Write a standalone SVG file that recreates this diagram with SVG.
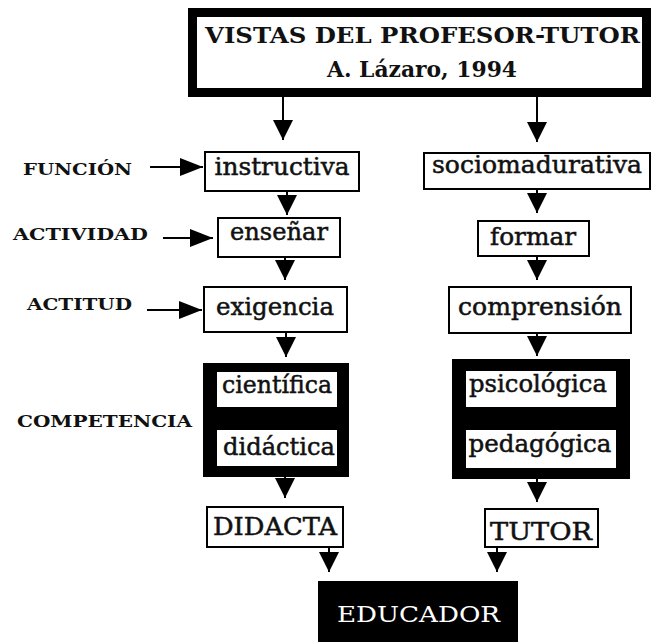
<svg xmlns="http://www.w3.org/2000/svg" width="652" height="642" viewBox="0 0 652 642">
<style>
.bg{fill:#fff}
.box{fill:#fff;stroke:#000;stroke-width:2}
.blk{fill:#000}
.wht{fill:#fff}
.t{font-family:"DejaVu Serif","Liberation Serif",serif;font-size:24px;fill:#111;stroke:#111;stroke-width:0.5;text-anchor:middle}
.lbl{font-family:"DejaVu Serif","Liberation Serif",serif;font-size:16px;font-weight:bold;fill:#111}
.ttl{font-family:"DejaVu Serif","Liberation Serif",serif;font-size:22px;font-weight:bold;fill:#111;text-anchor:middle}
.edu{font-family:"DejaVu Serif","Liberation Serif",serif;font-size:23px;fill:#fff;text-anchor:middle}
.ln{stroke:#000;stroke-width:2;fill:none}
.v{marker-end:url(#hv)}
.h{marker-end:url(#hh)}
</style>
<defs>
<marker id="hv" markerUnits="userSpaceOnUse" viewBox="0 0 20 20" refX="20" refY="10" markerWidth="20" markerHeight="20" orient="auto"><path d="M0,0 L20,10 L0,20 z" fill="#000"/></marker>
<marker id="hh" markerUnits="userSpaceOnUse" viewBox="0 0 23 18" refX="23" refY="9" markerWidth="23" markerHeight="18" orient="auto"><path d="M0,0 L23,9 L0,18 z" fill="#000"/></marker>
</defs>
<rect class="bg" x="0" y="0" width="652" height="642"/>

<g id="title">
<rect x="192.5" y="12.5" width="454" height="80" fill="#fff" stroke="#000" stroke-width="9"/>
<text class="ttl" x="422.5" y="43" textLength="435" lengthAdjust="spacingAndGlyphs">VISTAS DEL PROFESOR-TUTOR</text>
<text class="ttl" x="422" y="77" textLength="190" lengthAdjust="spacingAndGlyphs">A. Lázaro, 1994</text>
</g>

<g id="labels">
<text class="lbl" x="23" y="175" textLength="109" lengthAdjust="spacingAndGlyphs">FUNCIÓN</text>
<text class="lbl" x="13" y="240" textLength="135" lengthAdjust="spacingAndGlyphs">ACTIVIDAD</text>
<text class="lbl" x="27" y="310" textLength="105" lengthAdjust="spacingAndGlyphs">ACTITUD</text>
<text class="lbl" x="17" y="427" textLength="175" lengthAdjust="spacingAndGlyphs">COMPETENCIA</text>
</g>

<g id="instructiva"><rect class="box" x="205" y="152" width="154" height="39"/><text class="t" x="282" y="175" textLength="135" lengthAdjust="spacingAndGlyphs">instructiva</text></g>
<g id="ensenar"><rect class="box" x="218" y="218" width="122" height="39"/><text class="t" x="279" y="240" textLength="98" lengthAdjust="spacingAndGlyphs">enseñar</text></g>
<g id="exigencia"><rect class="box" x="204" y="287" width="143" height="45"/><text class="t" x="275" y="315" textLength="118" lengthAdjust="spacingAndGlyphs">exigencia</text></g>

<g id="sociomadurativa"><rect class="box" x="424" y="153" width="226" height="36"/><text class="t" x="537" y="173" textLength="210" lengthAdjust="spacingAndGlyphs">sociomadurativa</text></g>
<g id="formar"><rect class="box" x="478" y="221" width="111" height="35"/><text class="t" x="533" y="245" textLength="86" lengthAdjust="spacingAndGlyphs">formar</text></g>
<g id="comprension"><rect class="box" x="449" y="287" width="182" height="46"/><text class="t" x="540" y="315" textLength="164" lengthAdjust="spacingAndGlyphs">comprensión</text></g>

<g id="competencia-left">
<rect class="blk" x="203" y="363" width="146" height="114"/>
<rect class="wht" x="217" y="372" width="120" height="35"/>
<rect class="wht" x="217" y="430" width="120" height="36"/>
<text class="t" x="277" y="393" textLength="110" lengthAdjust="spacingAndGlyphs">científica</text>
<text class="t" x="279" y="455" textLength="112" lengthAdjust="spacingAndGlyphs">didáctica</text>
</g>
<g id="competencia-right">
<rect class="blk" x="452" y="359" width="178" height="120"/>
<rect class="wht" x="466" y="371" width="150" height="36"/>
<rect class="wht" x="466" y="430" width="150" height="38"/>
<text class="t" x="538" y="392" textLength="138" lengthAdjust="spacingAndGlyphs">psicológica</text>
<text class="t" x="540" y="452" textLength="143" lengthAdjust="spacingAndGlyphs">pedagógica</text>
</g>

<g id="didacta"><rect class="box" x="207" y="507" width="136" height="40"/><text class="t" x="275" y="535" textLength="124" lengthAdjust="spacingAndGlyphs">DIDACTA</text></g>
<g id="tutor"><rect class="box" x="485" y="509" width="113" height="38"/><text class="t" x="541" y="540" textLength="102" lengthAdjust="spacingAndGlyphs">TUTOR</text></g>

<g id="educador"><rect class="blk" x="318" y="581" width="200" height="61"/><text class="edu" x="418.5" y="622" textLength="163" lengthAdjust="spacingAndGlyphs">EDUCADOR</text></g>

<g id="connectors">
<line class="ln v" x1="283" y1="97" x2="283" y2="140"/>
<line class="ln v" x1="537" y1="97" x2="537" y2="142"/>
<line class="ln v" x1="287" y1="191" x2="287" y2="215"/>
<line class="ln v" x1="537" y1="189" x2="537" y2="213"/>
<line class="ln v" x1="285" y1="257" x2="285" y2="280"/>
<line class="ln v" x1="537" y1="256" x2="537" y2="280"/>
<line class="ln v" x1="286" y1="332" x2="286" y2="357"/>
<line class="ln v" x1="537" y1="333" x2="537" y2="356"/>
<line class="ln v" x1="285" y1="477" x2="285" y2="498"/>
<line class="ln v" x1="537" y1="479" x2="537" y2="502"/>
<line class="ln v" x1="329" y1="547" x2="329" y2="572"/>
<line class="ln v" x1="497" y1="547" x2="497" y2="572"/>
<line class="ln h" x1="150" y1="167" x2="203" y2="167"/>
<line class="ln h" x1="163" y1="238" x2="213" y2="238"/>
<line class="ln h" x1="147" y1="310" x2="202" y2="310"/>
</g>
</svg>
